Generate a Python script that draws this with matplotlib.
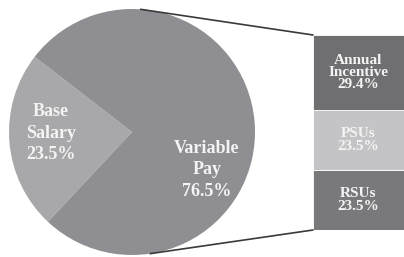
import matplotlib
matplotlib.use("Agg")
import matplotlib.pyplot as plt
from matplotlib.patches import ConnectionPatch
import numpy as np

# Data
pie_labels = ["Base\nSalary", "Variable\nPay"]
pie_values = [23.5, 76.5]
bar_labels = ["RSUs", "PSUs", "Annual\nIncentive"]
bar_values = [23.5, 23.5, 29.4]
bar_value_labels = ["23.5%", "23.5%", "29.4%"]

pie_colors = ["#a8a8aa", "#8f8f93"]
bar_colors = ["#79797c", "#c4c4c6", "#6f6f72"]

W, H = 404, 257
fig = plt.figure(figsize=(W / 100, H / 100), dpi=100)
fig.patch.set_facecolor("white")

# Pie axes in pixel-like data coordinates
ax = fig.add_axes([0, 0, 1, 1])
cx, cy, r = 132, 257 - 132, 123
ax.pie(pie_values, colors=pie_colors, startangle=142.3, counterclock=True,
       center=(cx, cy), radius=r, frame=True, wedgeprops=dict(linewidth=0))
ax.set_xlim(0, W)
ax.set_ylim(0, H)
ax.set_aspect("equal")
ax.axis("off")

font = dict(family="Liberation Serif", weight="bold", color="#f4f4f4")
ax.text(51, 257 - 133, f"{pie_labels[0]}\n{pie_values[0]}%", ha="center", va="center",
        fontsize=13, linespacing=1.33, **font)
ax.text(207, 257 - 170, f"{pie_labels[1]}\n{pie_values[1]}%", ha="center", va="center",
        fontsize=13, linespacing=1.33, **font)

# Bar axes
top_px, bot_px, left_px = 35, 230, 313
bax = fig.add_axes([left_px / W, (H - bot_px) / H, (W - left_px) / W, (bot_px - top_px) / H])
bottoms = np.concatenate([[0], np.cumsum(bar_values)[:-1]])
bax.bar([0] * len(bar_values), bar_values, bottom=bottoms, width=1.0,
        color=bar_colors, edgecolor="white", linewidth=0.6)
bax.set_xlim(-0.5, 0.5)
bax.set_ylim(0, sum(bar_values))
bax.axis("off")
for lab, v, b, vl in zip(bar_labels, bar_values, bottoms, bar_value_labels):
    bax.text(0, b + v / 2, f"{lab}\n{vl}", ha="center", va="center",
             fontsize=11, linespacing=0.92, **font)

# Connector lines
a_top = np.deg2rad(86)
a_bot = np.deg2rad(-81.5)
p_top = (cx + r * np.cos(a_top), cy + r * np.sin(a_top))
p_bot = (cx + r * np.cos(a_bot), cy + r * np.sin(a_bot))
for p, yb in [(p_top, 1), (p_bot, 0)]:
    con = ConnectionPatch(xyA=p, coordsA=ax.transData, xyB=(0, yb), coordsB=bax.transAxes,
                          color="#3a3a3a", linewidth=1.2)
    fig.add_artist(con)

fig.savefig("out.png", dpi=100, facecolor="white")
